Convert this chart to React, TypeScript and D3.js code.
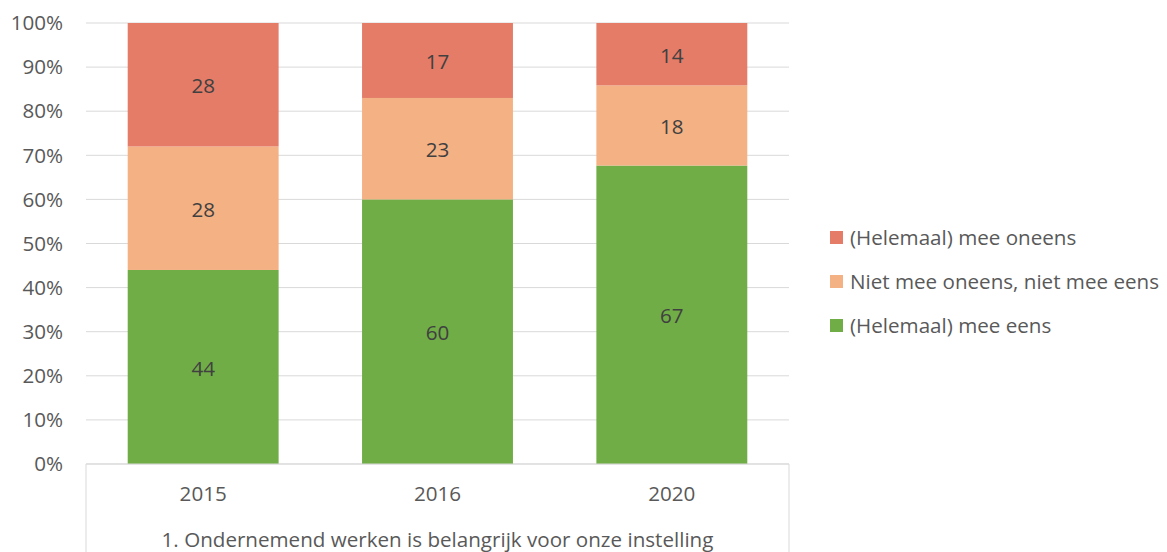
import React from "react";
import * as d3 from "d3";

const categories = ["2015", "2016", "2020"];
const agree = [44, 60, 67];
const neutral = [28, 23, 18];
const disagree = [28, 17, 14];
const seriesNames = ["(Helemaal) mee eens", "Niet mee oneens, niet mee eens", "(Helemaal) mee oneens"];
const seriesColors = ["#70AD47", "#F4B183", "#E47C68"];
const yTicks = [0, 0.1, 0.2, 0.3, 0.4, 0.5, 0.6, 0.7, 0.8, 0.9, 1];
const groupLabel = "1. Ondernemend werken is belangrijk voor onze instelling";

export default function App() {
  const W = 1167, H = 552;
  const left = 86, right = 789, top = 23, bottom = 464;
  const font = "'Open Sans', sans-serif";
  const fs = 20.6;
  const x = d3.scaleBand().domain(categories).range([left, right]).paddingInner(0.356).paddingOuter(0.178);
  const y = d3.scaleLinear().domain([0, 1]).range([bottom, top]);
  const rows = categories.map((c, i) => ({ cat: c, s0: agree[i], s1: neutral[i], s2: disagree[i] }));
  const stack = d3.stack<any>().keys(["s0", "s1", "s2"]).offset(d3.stackOffsetExpand)(rows);
  const raw = [agree, neutral, disagree];
  const pct = d3.format(".0%");
  const legendOrder = [2, 1, 0];
  return (
    <svg width={W} height={H} style={{ position: "absolute", left: 0, top: 0 }}>
      <rect width={W} height={H} fill="#fff" />
      {yTicks.map((t) => (
        <g key={t}>
          <line x1={left} x2={right} y1={y(t)} y2={y(t)} stroke="#d9d9d9" strokeWidth={1} />
          <text x={63} y={y(t)} dy="0.35em" textAnchor="end" fontFamily={font} fontSize={fs} fill="#595959">{pct(t)}</text>
        </g>
      ))}
      {stack.map((layer, si) =>
        layer.map((d, ci) => {
          const x0 = x(categories[ci])!;
          const y0 = y(d[1]), y1 = y(d[0]);
          return (
            <g key={si + "-" + ci}>
              <rect x={x0} y={y0} width={x.bandwidth()} height={y1 - y0} fill={seriesColors[si]} />
              <text x={x0 + x.bandwidth() / 2} y={(y0 + y1) / 2 + 1.5} dy="0.35em" textAnchor="middle" fontFamily={font} fontSize={fs} fill="#404040">{raw[si][ci]}</text>
            </g>
          );
        })
      )}
      <line x1={left} x2={right} y1={bottom} y2={bottom} stroke="#d9d9d9" strokeWidth={1} />
      <line x1={left} x2={left} y1={bottom} y2={H} stroke="#d9d9d9" strokeWidth={1} />
      <line x1={right} x2={right} y1={bottom} y2={H} stroke="#d9d9d9" strokeWidth={1} />
      {categories.map((c) => (
        <text key={c} x={x(c)! + x.bandwidth() / 2} y={494} dy="0.35em" textAnchor="middle" fontFamily={font} fontSize={fs} fill="#595959">{c}</text>
      ))}
      <text x={(left + right) / 2} y={540} dy="0.35em" textAnchor="middle" fontFamily={font} fontSize={fs} fill="#595959">{groupLabel}</text>
      {legendOrder.map((si, k) => (
        <g key={si} transform={`translate(830, ${231 + k * 44})`}>
          <rect width={13} height={13} fill={seriesColors[si]} />
          <text x={20} y={7} dy="0.35em" fontFamily={font} fontSize={fs} fill="#595959">{seriesNames[si]}</text>
        </g>
      ))}
    </svg>
  );
}
